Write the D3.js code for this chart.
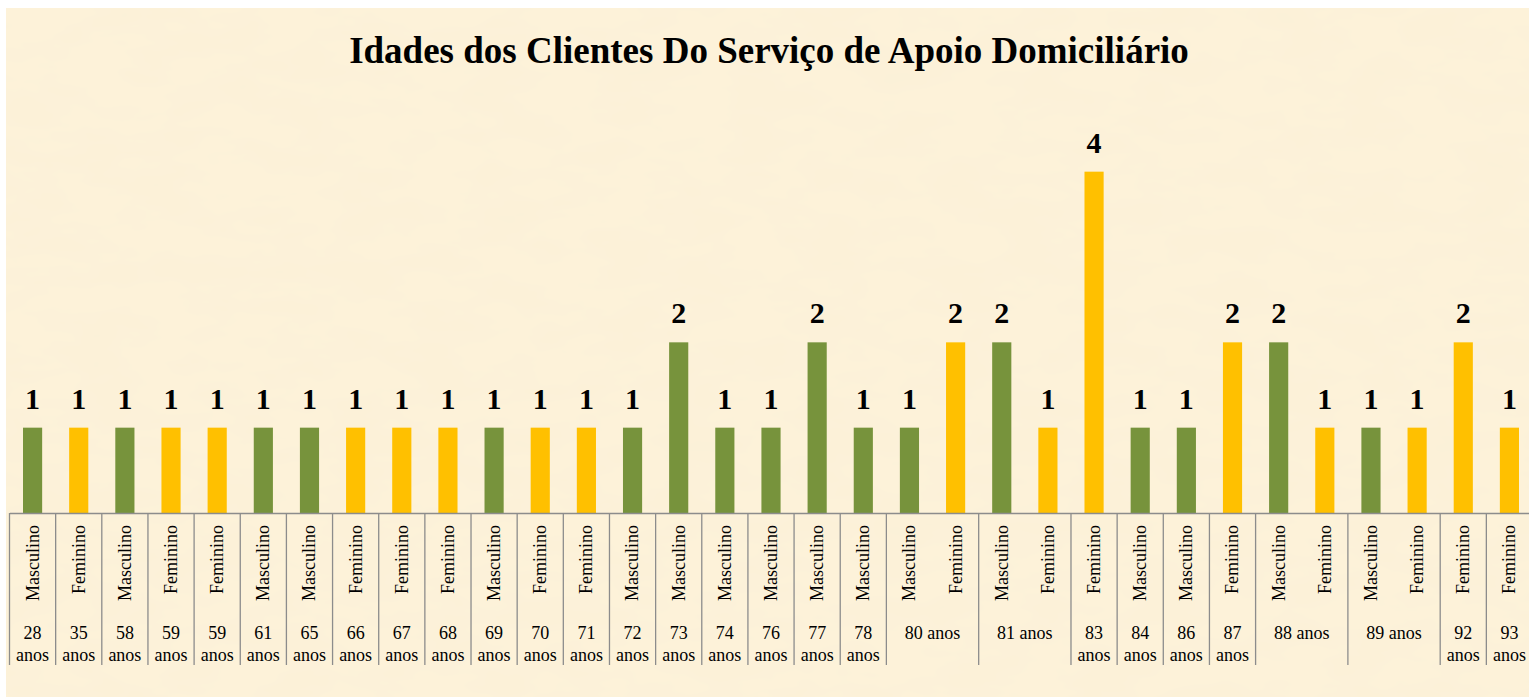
<!DOCTYPE html>
<html>
<head>
<meta charset="utf-8">
<script src="https://cdn.jsdelivr.net/npm/d3@7"></script>
<style>
  html, body { margin: 0; padding: 0; background: #ffffff; }
  svg { display: block; }
  svg text { font-family: "Liberation Serif", "Times New Roman", "DejaVu Serif", serif; }
</style>
</head>
<body>
<div id="chart"></div>
<script>
// outer level of the category axis (age groups) and how many bars each spans
const groupLabels = ["28 anos", "35 anos", "58 anos", "59 anos", "59 anos", "61 anos", "65 anos", "66 anos",
  "67 anos", "68 anos", "69 anos", "70 anos", "71 anos", "72 anos", "73 anos", "74 anos", "76 anos",
  "77 anos", "78 anos", "80 anos", "81 anos", "83 anos", "84 anos", "86 anos", "87 anos", "88 anos",
  "89 anos", "92 anos", "93 anos"];
const groupSizes = [1, 1, 1, 1, 1, 1, 1, 1, 1, 1, 1, 1, 1, 1, 1, 1, 1, 1, 1, 2, 2, 1, 1, 1, 1, 2, 2, 1, 1];

// inner level (one per bar) and the counts
const genders = ["Masculino", "Feminino", "Masculino", "Feminino", "Feminino", "Masculino", "Masculino",
  "Feminino", "Feminino", "Feminino", "Masculino", "Feminino", "Feminino", "Masculino", "Masculino",
  "Masculino", "Masculino", "Masculino", "Masculino", "Masculino", "Feminino", "Masculino", "Feminino",
  "Feminino", "Masculino", "Masculino", "Feminino", "Masculino", "Feminino", "Masculino", "Feminino",
  "Feminino", "Feminino"];
const values = [1, 1, 1, 1, 1, 1, 1, 1, 1, 1, 1, 1, 1, 1, 2, 1, 1, 2, 1, 1, 2, 2, 1, 4, 1, 1, 2, 2, 1, 1, 1, 2, 1];

const TITLE = "Idades dos Clientes Do Serviço de Apoio Domiciliário";
const WIDTH = 1529;
const HEIGHT = 697;
const PLOT = { left: 9.5, right: 1532.5, top: 129, bottom: 513 };
const GENDER_COLORS = { Masculino: "#77933c", Feminino: "#ffc000" };

const svg = d3.select("#chart").append("svg")
  .attr("width", WIDTH)
  .attr("height", HEIGHT);

// parchment background
const defs = svg.append("defs");
const filter = defs.append("filter").attr("id", "paper")
  .attr("x", 0).attr("y", 0).attr("width", "100%").attr("height", "100%");
filter.append("feTurbulence")
  .attr("type", "fractalNoise")
  .attr("baseFrequency", "0.015 0.035")
  .attr("numOctaves", 3)
  .attr("seed", 4)
  .attr("result", "noise");
filter.append("feColorMatrix")
  .attr("in", "noise")
  .attr("type", "matrix")
  .attr("values", "0 0 0 0 0.92  0 0 0 0 0.84  0 0 0 0 0.68  0 0 0 0.35 -0.1")
  .attr("result", "tint");
filter.append("feComposite").attr("in", "tint").attr("in2", "SourceGraphic").attr("operator", "over");

svg.append("rect")
  .attr("x", 6).attr("y", 8)
  .attr("width", WIDTH - 6).attr("height", HEIGHT - 8)
  .attr("fill", "#fdf2d9")
  .attr("filter", "url(#paper)");

const idx = d3.range(values.length);

const x = d3.scaleBand()
  .domain(idx)
  .range([PLOT.left, PLOT.right])
  .paddingInner(0.585)
  .paddingOuter(0.2925);

const y = d3.scaleLinear()
  .domain([0, 4.5])
  .range([PLOT.bottom, PLOT.top]);

const step = x.step();
const edge = i => PLOT.left + i * step;
const center = i => x(i) + x.bandwidth() / 2;

// title
svg.append("text")
  .attr("x", 769)
  .attr("y", 63)
  .attr("text-anchor", "middle")
  .attr("font-size", 37)
  .attr("font-weight", "bold")
  .attr("fill", "#000")
  .text(TITLE);

// bars
svg.append("g").selectAll("rect")
  .data(idx)
  .join("rect")
  .attr("x", i => x(i))
  .attr("y", i => y(values[i]))
  .attr("width", x.bandwidth())
  .attr("height", i => y(0) - y(values[i]))
  .attr("fill", i => GENDER_COLORS[genders[i]]);

// data labels
svg.append("g").selectAll("text")
  .data(idx)
  .join("text")
  .attr("x", i => center(i))
  .attr("y", i => y(values[i]) - 19)
  .attr("text-anchor", "middle")
  .attr("font-size", 30)
  .attr("font-weight", "bold")
  .attr("fill", "#000")
  .text(i => values[i]);

// category axis line
svg.append("g")
  .attr("transform", `translate(0,${PLOT.bottom})`)
  .call(d3.axisBottom(x).tickSize(0).tickSizeOuter(0).tickFormat(""))
  .call(g => g.select(".domain").attr("stroke", "#8c8c8c").attr("stroke-width", 1.3));

// group separators
const bounds = [0];
groupSizes.forEach(s => bounds.push(bounds[bounds.length - 1] + s));

svg.append("g").selectAll("line")
  .data(bounds)
  .join("line")
  .attr("x1", b => edge(b))
  .attr("x2", b => edge(b))
  .attr("y1", PLOT.bottom)
  .attr("y2", 665)
  .attr("stroke", "#8c8c8c")
  .attr("stroke-width", 1.3);

// inner labels (rotated)
svg.append("g").selectAll("text")
  .data(idx)
  .join("text")
  .attr("transform", i => `translate(${center(i)},525) rotate(-90)`)
  .attr("text-anchor", "end")
  .attr("dy", "0.33em")
  .attr("font-size", 18)
  .attr("fill", "#000")
  .text(i => genders[i]);

// outer labels
const groups = svg.append("g").selectAll("text")
  .data(groupLabels.map((label, k) => ({ label, start: bounds[k], size: groupSizes[k] })))
  .join("text")
  .attr("x", d => edge(d.start) + d.size * step / 2)
  .attr("y", 639)
  .attr("text-anchor", "middle")
  .attr("font-size", 18)
  .attr("fill", "#000");

groups.each(function (d) {
  const t = d3.select(this);
  if (d.size > 1) {
    t.text(d.label);
  } else {
    const parts = d.label.split(" ");
    t.append("tspan").attr("x", edge(d.start) + step / 2).text(parts[0]);
    t.append("tspan").attr("x", edge(d.start) + step / 2).attr("dy", 22).text(parts[1]);
  }
});
</script>
</body>
</html>
